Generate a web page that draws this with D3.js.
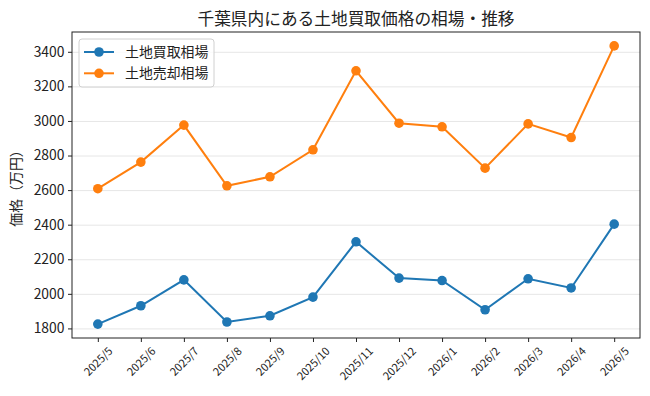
<!DOCTYPE html>
<html lang="ja">
<head>
  <meta charset="UTF-8">
  <title>千葉県内にある土地買取価格の相場・推移</title>
  <script src="https://d3js.org/d3.v7.min.js"></script>
  <style>
    body {
      margin: 0;
      background: #fff;
    }
    svg { display: block; font-family: 'Noto Sans CJK JP', sans-serif; }
    .grid line { stroke: #e6e6e6; stroke-width: 1; }
    .grid path { display: none; }
    .axis text { fill: #222; font-family: 'Noto Sans CJK JP', sans-serif; }
    .axis path, .axis line { stroke: #222; }
  </style>
</head>
<body>
  <svg id="chart" width="650" height="396"></svg>

  <script>
    const months = ['2025/5', '2025/6', '2025/7', '2025/8', '2025/9', '2025/10', '2025/11',
                    '2025/12', '2026/1', '2026/2', '2026/3', '2026/4', '2026/5'];
    const buyPrices  = [1825, 1931, 2081, 1837, 1873, 1981, 2301, 2091, 2077, 1908, 2087, 2034, 2403];
    const sellPrices = [2608, 2762, 2976, 2625, 2677, 2833, 3290, 2987, 2966, 2727, 2983, 2904, 3434];
    const yTicks = [1800, 2000, 2200, 2400, 2600, 2800, 3000, 3200, 3400];

    const series = [
      { name: '土地買取相場', values: buyPrices,  color: '#1f77b4' },
      { name: '土地売却相場', values: sellPrices, color: '#ff7f0e' }
    ];

    const svg = d3.select('#chart');
    const margin = { left: 72, right: 10, top: 32, bottom: 58 };
    const width = 650, height = 396;
    const x0 = margin.left, x1 = width - margin.right;
    const y0 = height - margin.bottom, y1 = margin.top;

    // matplotlib style 5% padding on both axes
    const allVals = buyPrices.concat(sellPrices);
    const vMin = d3.min(allVals), vMax = d3.max(allVals);
    const pad = (vMax - vMin) * 0.05;

    const xPad = (x1 - x0) * 0.05 / 1.1;
    const x = d3.scalePoint().domain(months).range([x0 + xPad, x1 - xPad]).padding(0);

    const y = d3.scaleLinear().domain([vMin - pad, vMax + pad]).range([y0, y1]);

    // grid
    svg.append('g')
      .attr('class', 'grid')
      .attr('transform', `translate(${x0},0)`)
      .call(d3.axisLeft(y).tickValues(yTicks).tickSize(-(x1 - x0)).tickFormat(''));

    // lines + markers
    const line = d3.line().x((d, i) => x(months[i])).y(d => y(d));

    series.forEach(s => {
      svg.append('path')
        .datum(s.values)
        .attr('fill', 'none')
        .attr('stroke', s.color)
        .attr('stroke-width', 2)
        .attr('d', line);

      svg.selectAll(null)
        .data(s.values)
        .enter().append('circle')
        .attr('cx', (d, i) => x(months[i]))
        .attr('cy', d => y(d))
        .attr('r', 4.8)
        .attr('fill', s.color);
    });

    // frame
    svg.append('rect')
      .attr('x', x0).attr('y', y1)
      .attr('width', x1 - x0).attr('height', y0 - y1)
      .attr('fill', 'none').attr('stroke', '#222').attr('stroke-width', 1);

    // axes
    const yAxis = svg.append('g')
      .attr('class', 'axis')
      .attr('transform', `translate(${x0},0)`)
      .call(d3.axisLeft(y).tickValues(yTicks).tickSize(4).tickPadding(3.5).tickFormat(d3.format('d')));
    yAxis.select('.domain').remove();
    yAxis.selectAll('text').style('font-size', '13.9px');

    const xAxis = svg.append('g')
      .attr('class', 'axis')
      .attr('transform', `translate(0,${y0})`)
      .call(d3.axisBottom(x).tickSize(4).tickPadding(0));
    xAxis.select('.domain').remove();
    // rotated labels: bounding box centred under the tick, top just below it
    xAxis.selectAll('text')
      .style('font-size', '11px')
      .attr('text-anchor', 'middle')
      .attr('y', 0)
      .attr('dy', '0.35em')
      .attr('transform', function () {
        const len = this.getComputedTextLength();
        const h = (len + 9) * Math.SQRT1_2;
        return `translate(0,${8 + h / 2}) rotate(-45)`;
      });

    // title
    svg.append('text')
      .attr('x', (x0 + x1) / 2)
      .attr('y', 24.5)
      .attr('text-anchor', 'middle')
      .style('font-size', '16.7px')
      .attr('fill', '#222')
      .text('千葉県内にある土地買取価格の相場・推移');

    // y label
    svg.append('text')
      .attr('transform', `translate(21,${(y0 + y1) / 2}) rotate(-90)`)
      .attr('text-anchor', 'middle')
      .style('font-size', '13.9px')
      .attr('fill', '#222')
      .text('価格（万円）');

    // legend
    const lg = svg.append('g').attr('transform', 'translate(79,39)');
    lg.append('rect')
      .attr('width', 135).attr('height', 48).attr('rx', 3)
      .attr('fill', '#fff').attr('fill-opacity', 0.8)
      .attr('stroke', '#d0d0d0');
    series.forEach((s, i) => {
      const ly = 13 + i * 21.3;
      lg.append('line')
        .attr('x1', 5).attr('x2', 35).attr('y1', ly).attr('y2', ly)
        .attr('stroke', s.color).attr('stroke-width', 2);
      lg.append('circle')
        .attr('cx', 20).attr('cy', ly).attr('r', 4.8).attr('fill', s.color);
      lg.append('text')
        .attr('x', 46).attr('y', ly).attr('dy', '0.35em')
        .style('font-size', '13.9px').attr('fill', '#222')
        .text(s.name);
    });
  </script>
</body>
</html>
